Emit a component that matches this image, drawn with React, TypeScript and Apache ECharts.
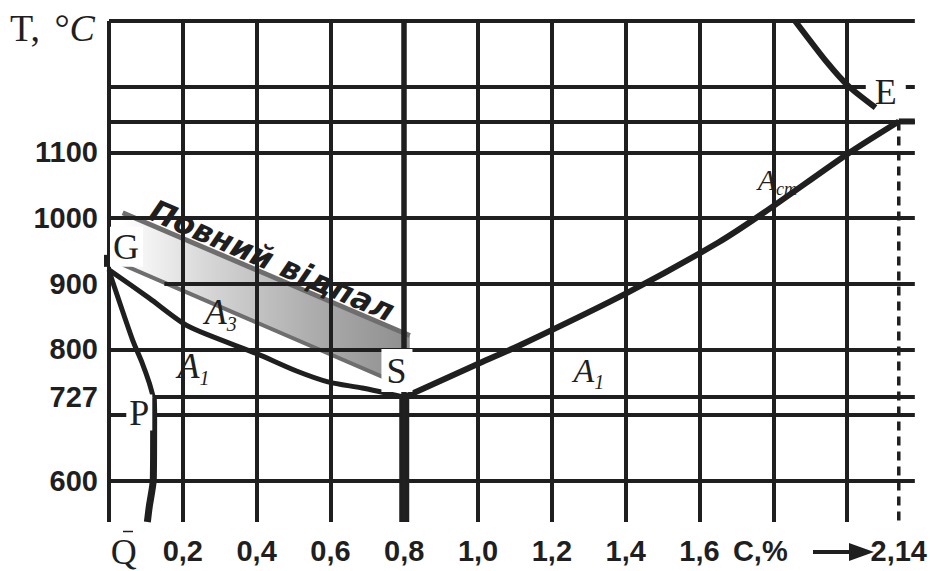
import React, { useEffect, useRef } from "react";
import * as echarts from "echarts";

const INK = "#1f1f1f";
const SERIF = '"Liberation Serif", "Times New Roman", serif';
const SANS = '"Liberation Sans", Arial, sans-serif';

// Axis extents: carbon content, % and temperature, °C
const C_MIN = 0;
const C_MAX = 2.1835;
const T_MIN = 537;
const T_MAX = 1300;

// Labelled ticks
const carbonTickValues = [0.2, 0.4, 0.6, 0.8, 1.0, 1.2, 1.4, 1.6, 1.8, 2.14];
const carbonTickLabels = ["0,2", "0,4", "0,6", "0,8", "1,0", "1,2", "1,4", "1,6", "C,%", "2,14"];
const tempTickValues = [600, 727, 800, 900, 1000, 1100];
const tempTickLabels = ["600", "727", "800", "900", "1000", "1100"];

// Grid lines
const carbonGridLines = [0, 0.2, 0.4, 0.6, 0.8, 1.0, 1.2, 1.4, 1.6, 1.8, 2.0];
const tempGridLines = [600, 700, 800, 1000, 1100, 1147, 1200, 1300];
const isothermPSK = [[0.12, 727], [C_MAX, 727]];
const isotherm900 = [[0.15, 900], [C_MAX, 900]];

// Key points of the steel corner of the Fe–C diagram
const pointG = [0, 921];
const pointS = [0.8, 727];
const pointE = [2.14, 1147];
const pointP = [0.12, 727];
const pointQ = [0.04, 537];

// Phase boundaries
const lineGS = [[0, 921], [0.109, 878], [0.215, 835], [0.402, 793], [0.508, 767], [0.596, 750], [0.686, 741], [0.8, 727]];
const lineGP = [[0, 921], [0.011, 901], [0.064, 814], [0.09, 779], [0.109, 749], [0.12, 727]];
const linePQ = [[0.12, 727], [0.121, 703], [0.12, 601], [0.109, 560], [0.104, 537]];
const lineSE = [[0.8, 727], [1.005, 779], [1.128, 810], [1.404, 886], [1.652, 963], [1.777, 1009], [2.005, 1099], [2.14, 1147]];
const lineLiquidus = [[1.859, 1300], [1.944, 1238], [2.005, 1200], [2.077, 1168]];
const lineECF = [[2.14, 1147], [C_MAX, 1147]];
const lineEutectoid = [[0.8, 727], [0.8, T_MIN]];
const line214 = [[2.14, 1147], [2.14, T_MIN]];

// Full-annealing temperature band
const annealUpper = [[0.037, 1008], [0.815, 821]];
const annealLower = [[0.037, 929], [0.815, 740]];
const annealText = "Повний відпал";

// Phase-field label anchors
const labelA3 = [0.303, 854];
const labelA1Left = [0.229, 771];
const labelA1Right = [1.3, 764];
const labelAcm = [1.811, 1056];

const curve = (data: number[][], width: number, smooth: number, extra: any = {}) => ({
  type: "line",
  data,
  smooth,
  symbol: "none",
  silent: true,
  z: 3,
  lineStyle: { color: INK, width, cap: "butt", join: "round" },
  ...extra,
});

const phaseRich = (big: number, small: number) => ({
  a: { fontFamily: SERIF, fontStyle: "italic", fontSize: big, color: INK, padding: [0, 0, 4, 0] },
  s: { fontFamily: SERIF, fontStyle: "italic", fontSize: small, color: INK, verticalAlign: "bottom" },
});

const buildOption = () => ({
  animation: false,
  backgroundColor: "#ffffff",
  grid: { left: 109, right: 0, top: 21, bottom: 49 },
  xAxis: {
    type: "value",
    min: C_MIN,
    max: C_MAX,
    axisLine: { show: false },
    axisTick: { show: false },
    splitLine: { show: false },
    axisLabel: {
      customValues: carbonTickValues,
      margin: 14,
      color: INK,
      fontFamily: SANS,
      fontWeight: "bold",
      fontSize: 29,
      formatter: (v: number) => {
        const i = carbonTickValues.findIndex((c) => Math.abs(c - v) < 1e-6);
        const text = i >= 0 ? carbonTickLabels[i] : "";
        return text === "C,%" ? `{shift|${text}}` : text;
      },
      rich: {
        shift: { fontFamily: SANS, fontWeight: "bold", fontSize: 29, color: INK, padding: [0, 26, 0, 0] },
      },
    },
  },
  yAxis: {
    type: "value",
    min: T_MIN,
    max: T_MAX,
    axisLine: { show: false },
    axisTick: { show: false },
    splitLine: { show: false },
    axisLabel: {
      customValues: tempTickValues,
      margin: 11,
      color: INK,
      fontFamily: SANS,
      fontWeight: "bold",
      fontSize: 29,
      formatter: (v: number) => {
        const i = tempTickValues.indexOf(v);
        return i >= 0 ? tempTickLabels[i] : "";
      },
    },
  },
  graphic: {
    elements: [
      {
        type: "text",
        left: 10,
        top: 9,
        style: {
          text: "{n|T, }{d|°}{i|C}",
          rich: {
            n: { fontFamily: SERIF, fontSize: 38, fill: INK },
            d: { fontFamily: SERIF, fontSize: 38, fill: INK, padding: [0, 0, 0, 5] },
            i: { fontFamily: SERIF, fontSize: 38, fontStyle: "italic", fill: INK },
          },
        },
      },
      { type: "line", shape: { x1: 813, y1: 552, x2: 856, y2: 552 }, style: { stroke: INK, lineWidth: 4 } },
      { type: "polygon", shape: { points: [[849, 543], [874, 552], [849, 561]] }, style: { fill: INK } },
      { type: "line", shape: { x1: 123, y1: 531.5, x2: 133, y2: 531.5 }, style: { stroke: INK, lineWidth: 1.5 } },
    ],
  },
  series: [
    // coordinate grid
    {
      type: "line",
      data: [[C_MIN, T_MIN]],
      symbol: "none",
      silent: true,
      z: 1,
      markLine: {
        silent: true,
        symbol: ["none", "none"],
        label: { show: false },
        emphasis: { disabled: true },
        lineStyle: { color: INK, width: 4, type: "solid" },
        data: [
          ...tempGridLines.map((t) => ({ yAxis: t })),
          [{ coord: isothermPSK[0] }, { coord: isothermPSK[1] }],
          [{ coord: isotherm900[0] }, { coord: isotherm900[1] }],
          ...carbonGridLines.map((c) =>
            c === 0.8 ? { xAxis: c, lineStyle: { color: INK, width: 5.5, type: "solid" } } : { xAxis: c }
          ),
        ],
      },
    },
    // annealing band
    {
      type: "custom",
      coordinateSystem: "cartesian2d",
      silent: true,
      clip: false,
      z: 2,
      data: [[0.4, 900]],
      renderItem: (_params: any, api: any) => {
        const ul = api.coord(annealUpper[0]);
        const ur = api.coord(annealUpper[1]);
        const ll = api.coord(annealLower[0]);
        const lr = api.coord(annealLower[1]);
        const ang = Math.atan2(ur[1] - ul[1], ur[0] - ul[0]);
        const mx = (ul[0] + ur[0]) / 2;
        const my = (ul[1] + ur[1]) / 2;
        const lift = 15;
        return {
          type: "group",
          children: [
            {
              type: "polygon",
              shape: { points: [ul, ur, lr, ll] },
              style: {
                fill: new echarts.graphic.LinearGradient(0, 0, 1, 0, [
                  { offset: 0, color: "#ffffff" },
                  { offset: 0.3, color: "#d6d6d6" },
                  { offset: 0.65, color: "#aeaeae" },
                  { offset: 1, color: "#8e8e8e" },
                ]),
              },
            },
            { type: "line", shape: { x1: ul[0], y1: ul[1], x2: ur[0], y2: ur[1] }, style: { stroke: "#6e6e6e", lineWidth: 5 } },
            { type: "line", shape: { x1: ll[0], y1: ll[1], x2: lr[0], y2: lr[1] }, style: { stroke: "#6e6e6e", lineWidth: 4 } },
            {
              type: "text",
              x: mx + Math.sin(ang) * lift,
              y: my - Math.cos(ang) * lift,
              rotation: -ang,
              style: {
                text: annealText,
                fill: INK,
                fontFamily: '"DejaVu Sans", sans-serif',
                fontStyle: "italic",
                fontWeight: "bold",
                fontSize: 31,
                align: "center",
                verticalAlign: "middle",
              },
            },
          ],
        };
      },
    },
    curve(lineGS, 5, 0.25),
    curve(lineGP, 5, 0.2),
    curve(linePQ, 7, 0.2),
    curve(lineSE, 6, 0.25),
    curve(lineLiquidus, 6, 0.2, { z: 7 }),
    curve(lineECF, 6, 0),
    curve(lineEutectoid, 10, 0),
    {
      type: "line",
      data: line214,
      symbol: "none",
      silent: true,
      z: 3,
      lineStyle: { color: INK, width: 3.5, type: [9, 6] },
    },
    // G point tick on the temperature axis
    {
      type: "scatter",
      silent: true,
      z: 4,
      data: [pointG],
      symbol: "rect",
      symbolSize: [5, 12],
      symbolOffset: [-2.5, -9],
      itemStyle: { color: INK, opacity: 1 },
    },
    // phase fields
    {
      type: "scatter",
      silent: true,
      z: 5,
      symbolSize: 0,
      itemStyle: { opacity: 1 },
      label: { show: true, position: "inside", opacity: 1 },
      data: [
        { value: labelA3, label: { formatter: "{a|A}{s|3}", rich: phaseRich(36, 20) } },
        { value: labelA1Left, label: { formatter: "{a|A}{s|1}", rich: phaseRich(36, 20) } },
        { value: labelA1Right, label: { formatter: "{a|A}{s|1}", rich: phaseRich(34, 20) } },
        { value: labelAcm, label: { formatter: "{a|A}{s|cm}", rich: phaseRich(30, 18) } },
      ],
    },
    // point letters
    {
      type: "scatter",
      silent: true,
      z: 6,
      symbolSize: 0,
      itemStyle: { opacity: 1 },
      label: { show: true, position: "inside", opacity: 1, fontFamily: SERIF, fontSize: 36, color: INK },
      data: [
        { value: pointG, label: { formatter: "G", offset: [17.5, -23], padding: [3, 4, 1, 3], backgroundColor: "#ffffff" } },
        { value: pointS, label: { formatter: "S", offset: [-7.3, -26.7], padding: [4, 6, 3, 5], backgroundColor: "#ffffff" } },
        { value: pointE, label: { formatter: "E", offset: [-13, -29.5], padding: [0, 9, 0, 9], lineHeight: 34, backgroundColor: "#ffffff" } },
        { value: pointP, label: { formatter: "P", offset: [-14, 15.3], padding: [0, 3, 0, 3], backgroundColor: "#ffffff" } },
        { value: pointQ, label: { formatter: "Q", offset: [0, 30], lineHeight: 30 } },
      ],
    },
  ],
});

export default function App() {
  const ref = useRef<HTMLDivElement>(null);
  useEffect(() => {
    if (!ref.current) return;
    const chart = echarts.init(ref.current, null, { renderer: "svg" });
    chart.setOption(buildOption() as any);
    return () => chart.dispose();
  }, []);
  return (
    <div
      ref={ref}
      style={{ position: "fixed", left: 0, top: 0, width: 930, height: 571, background: "#ffffff" }}
    />
  );
}
